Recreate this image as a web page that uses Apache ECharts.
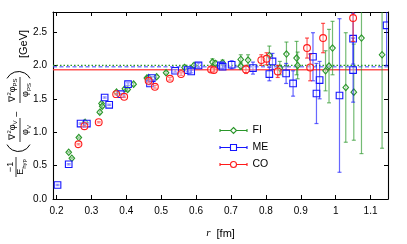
<!DOCTYPE html>
<html><head><meta charset="utf-8">
<script src="https://cdn.jsdelivr.net/npm/echarts@6/dist/echarts.min.js"></script>
<style>html,body{margin:0;padding:0;background:#fff}#c{width:407px;height:244px}</style>
</head><body><div id="c"></div>
<script>
// ---- data ----
const xTicks = [0.2,0.3,0.4,0.5,0.6,0.7,0.8,0.9,1.0,1.1];
const yTicks = [0,0.5,1.0,1.5,2.0,2.5];
const xRange = [0.19, 1.15];
const yRange = [0, 2.8];

const fiR = [0.235,0.244,0.264,0.282,0.324,0.329,0.331,0.372,0.396,0.404,0.421,0.459,0.464,0.487,0.514,0.567,0.594,0.647,0.655,0.676,0.728,0.728,0.749,0.810,0.840,0.859,0.888,0.891,0.971,0.981,0.991,1.029,1.052,1.074,1.133];
const fiV = [0.70,0.61,0.92,1.15,1.30,1.43,1.39,1.60,1.65,1.64,1.72,1.81,1.82,1.83,1.89,1.97,2.00,2.05,2.03,2.04,2.09,1.99,2.08,2.15,1.96,2.17,2.11,2.00,1.92,1.99,2.26,1.67,1.60,2.41,2.16];
const fiE = [0.01,0.01,0.01,0.02,0.02,0.02,0.02,0.02,0.02,0.02,0.02,0.02,0.02,0.02,0.02,0.03,0.03,0.05,0.04,0.04,0.07,0.05,0.08,0.14,0.10,0.18,0.25,0.20,0.30,0.55,0.40,0.82,0.72,1.73,1.40];

const meR = [0.203,0.235,0.269,0.287,0.338,0.351,0.384,0.405,0.468,0.473,0.540,0.576,0.586,0.607,0.671,0.676,0.702,0.763,0.810,0.819,0.858,0.878,0.935,0.945,0.954,1.011,1.050,1.050,1.146];
const meV = [0.21,0.52,1.13,1.13,1.52,1.41,1.57,1.72,1.73,1.81,1.92,1.93,1.91,2.00,2.00,1.98,2.01,1.96,1.87,2.06,1.88,1.73,2.13,1.58,1.78,1.55,2.40,1.93,2.60];
const meE = [0.01,0.01,0.01,0.01,0.01,0.01,0.01,0.02,0.02,0.02,0.02,0.02,0.02,0.03,0.04,0.04,0.06,0.09,0.10,0.12,0.15,0.19,0.36,0.45,0.28,1.15,0.38,0.48,0.60];

const coR = [0.263,0.280,0.321,0.371,0.394,0.464,0.482,0.525,0.557,0.643,0.651,0.743,0.787,0.802,0.834,0.918,0.927,0.964,1.050];
const coV = [0.82,1.09,1.15,1.57,1.53,1.77,1.68,1.80,1.87,1.94,1.93,1.94,2.08,2.10,1.91,2.26,1.97,2.41,2.71];
const coE = [0.01,0.01,0.01,0.01,0.01,0.02,0.02,0.02,0.02,0.03,0.03,0.06,0.08,0.09,0.09,0.15,0.20,0.22,0.35];

const fitFI = 2.00, fitME = 1.98, fitCO = 1.935;
const seriesNames = ['FI','ME','CO'];

// ---- styling ----
const GREEN = '#2a962a', BLUE = '#1515ff', RED = '#ff1a1a';
const zip = (r,v,e) => r.map((x,i)=>[x,v[i],e[i]]);

function makeRender(shape, color, barColor){
  return function(params, api){
    const r = api.value(0), v = api.value(1), e = api.value(2);
    const p = api.coord([r,v]), t = api.coord([r,v+e]), b = api.coord([r,v-e]);
    const cw = 2;
    const bs = {stroke: barColor, lineWidth: 1.2, fill: null};
    const kids = [
      {type:'line', shape:{x1:p[0],y1:t[1],x2:p[0],y2:b[1]}, style:bs},
      {type:'line', shape:{x1:p[0]-cw,y1:t[1],x2:p[0]+cw,y2:t[1]}, style:bs},
      {type:'line', shape:{x1:p[0]-cw,y1:b[1],x2:p[0]+cw,y2:b[1]}, style:bs}
    ];
    const ms = {stroke: color, lineWidth: 1.1, fill: 'rgba(255,255,255,0.35)'};
    if (shape==='rect') kids.push({type:'rect', shape:{x:p[0]-3.3,y:p[1]-3.3,width:6.6,height:6.6}, style:ms});
    else if (shape==='circle') kids.push({type:'circle', shape:{cx:p[0],cy:p[1],r:3.4}, style:ms});
    else kids.push({type:'polygon', shape:{points:[[p[0],p[1]-3.2],[p[0]+2.8,p[1]],[p[0],p[1]+3.2],[p[0]-2.8,p[1]]]}, style:ms});
    return {type:'group', children:kids};
  };
}

const iconFI = 'path://M0.5 1.5L0.5 4.5M0 3L11.5 3M16.5 3L28 3M27.5 1.5L27.5 4.5M14 0L17 3L14 6L11 3Z';
const iconME = 'path://M0.5 1.5L0.5 4.5M0 3L11 3M17 3L28 3M27.5 1.5L27.5 4.5M11 0L17 0L17 6L11 6Z';
const iconCO = 'path://M0.5 1.5L0.5 4.5M0 3L11 3M17 3L28 3M27.5 1.5L27.5 4.5M17 3A3 3 0 1 1 11 3A3 3 0 1 1 17 3Z';

const FF = 'Liberation Sans, Arial, sans-serif';
const chart = echarts.init(document.getElementById('c'), null, {renderer:'canvas'});

const axisCommon = {
  axisLine:{show:true, onZero:false, lineStyle:{color:'#000', width:1.1}},
  splitLine:{show:false}
};

const sub = {fontSize:6, fontFamily:FF, verticalAlign:'bottom', lineHeight:12};
const sup = {fontSize:6, fontFamily:FF, verticalAlign:'top', lineHeight:12};
const main = {fontSize:9, fontFamily:FF, lineHeight:12};
function txt(text, x, y, size){
  return {type:'text', x:x, y:y, style:{text:text, fill:'#000', align:'center', verticalAlign:'middle',
    font: (size||9)+'px '+FF, rich:{a:main, s:sub, p:sup}}};
}
function bar(x1,x2,y){
  return {type:'line', shape:{x1:x1,y1:y||0,x2:x2,y2:y||0}, style:{stroke:'#000', lineWidth:0.8}};
}
function paren(cx, left){
  const R = 13, th = 62*Math.PI/180;
  return {type:'arc', shape: left ? {cx:cx, cy:-1.5, r:R, startAngle:Math.PI-th, endAngle:Math.PI+th, clockwise:true}
                                  : {cx:cx, cy:-1.5, r:R, startAngle:-th, endAngle:th, clockwise:true},
    style:{stroke:'#000', lineWidth:1, fill:null}};
}

chart.setOption({
  animation:false,
  grid:{left:53, right:19, top:12, bottom:43},
  xAxis:[
    Object.assign({type:'value', min:xRange[0], max:xRange[1], position:'bottom',
      name:'{i|r}  [fm]', nameLocation:'middle', nameGap:29,
      nameTextStyle:{fontSize:11, fontFamily:FF, color:'#000', rich:{i:{fontStyle:'italic', fontSize:11, fontFamily:'Liberation Serif, serif'}}},
      axisTick:{show:true, inside:true, length:4, customValues:xTicks, lineStyle:{color:'#000'}},
      axisLabel:{show:true, customValues:xTicks, margin:7, fontSize:10, fontFamily:FF, color:'#000'}}, axisCommon),
    Object.assign({type:'value', min:xRange[0], max:xRange[1], position:'top',
      axisTick:{show:true, inside:true, length:4, customValues:xTicks, lineStyle:{color:'#000'}},
      axisLabel:{show:false}}, axisCommon)
  ],
  yAxis:[
    Object.assign({type:'value', min:yRange[0], max:yRange[1], position:'left',
      axisTick:{show:true, inside:true, length:4, customValues:yTicks, lineStyle:{color:'#000'}},
      axisLabel:{show:true, customValues:yTicks, margin:6, fontSize:10, fontFamily:FF, color:'#000',
        formatter:v=>v.toFixed(1)}}, axisCommon),
    Object.assign({type:'value', min:yRange[0], max:yRange[1], position:'right',
      axisTick:{show:true, inside:true, length:4, customValues:yTicks, lineStyle:{color:'#000'}},
      axisLabel:{show:false}}, axisCommon)
  ],
  legend:{
    orient:'vertical', left:217, top:125, padding:0, itemWidth:28, itemHeight:6, itemGap:6,
    textStyle:{fontSize:10.5, fontFamily:FF, color:'#000'},
    data:[
      {name:'FI', icon:iconFI, itemStyle:{color:'none', borderColor:GREEN, borderWidth:1.1}},
      {name:'ME', icon:iconME, itemStyle:{color:'none', borderColor:BLUE, borderWidth:1.1}},
      {name:'CO', icon:iconCO, itemStyle:{color:'none', borderColor:RED, borderWidth:1.1}}
    ]
  },
  graphic:[{
    type:'group', x:20, y:108, rotation:Math.PI/2,
    children:[
      txt('−1', -59, -9),
      bar(-69,-49,-4),
      txt('{a|E}{s|hyp}', -59, 1),
      paren(-30.5, true),
      txt('{a|∇}{p|2}{a|φ}{s|V}', -22, -7.5),
      bar(-34,-10),
      txt('{a|φ}{s|V}', -22, 6),
      txt('−', -6, -3, 10),
      txt('{a|∇}{p|2}{a|φ}{s|PS}', 18, -7.5),
      bar(5,31),
      txt('{a|φ}{s|PS}', 18, 6),
      paren(23.5, false),
      txt('[GeV]', 64, 4, 11)
    ]
  }],
  series:[
    {type:'line', silent:true, showSymbol:false, data:[[xRange[0],fitFI],[xRange[1],fitFI]],
      lineStyle:{color:GREEN, width:1.3, type:[1.5,2]}, z:1},
    {type:'line', silent:true, showSymbol:false, data:[[xRange[0],fitME],[xRange[1],fitME]],
      lineStyle:{color:'rgba(60,60,255,0.65)', width:1.4, type:[4,2.5]}, z:1},
    {type:'line', silent:true, showSymbol:false, data:[[xRange[0],fitCO],[xRange[1],fitCO]],
      lineStyle:{color:'rgba(255,40,40,0.8)', width:1.3}, z:1},
    {name:'FI', type:'custom', clip:true, data:zip(fiR,fiV,fiE), itemStyle:{color:GREEN},
      renderItem:makeRender('diamond', GREEN, 'rgba(42,150,42,0.65)'), z:3},
    {name:'ME', type:'custom', clip:true, data:zip(meR,meV,meE), itemStyle:{color:BLUE},
      renderItem:makeRender('rect', BLUE, 'rgba(21,21,255,0.65)'), z:4},
    {name:'CO', type:'custom', clip:true, data:zip(coR,coV,coE), itemStyle:{color:RED},
      renderItem:makeRender('circle', RED, 'rgba(255,26,26,0.75)'), z:5}
  ]
});
</script></body></html>
